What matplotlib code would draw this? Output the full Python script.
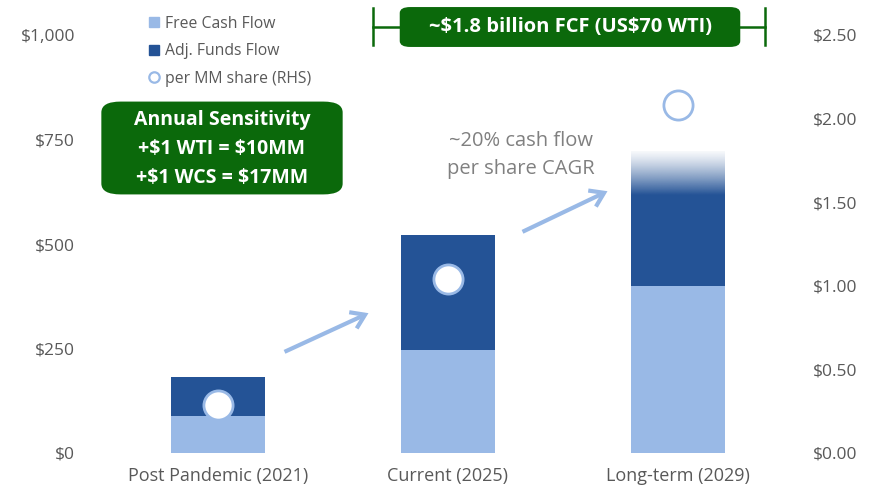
import numpy as np
import matplotlib
matplotlib.use("Agg")
import matplotlib.pyplot as plt
from matplotlib.patches import FancyBboxPatch, FancyArrowPatch
from matplotlib.lines import Line2D
from matplotlib.colors import to_rgb

plt.rcParams['font.family'] = ['Open Sans', 'DejaVu Sans']
plt.rcParams['text.parse_math'] = False

categories = ["Post Pandemic (2021)", "Current (2025)", "Long-term (2029)"]
adj_funds_flow = [182, 521, 617]      # solid total bar ($MM)
faded_top = [0, 0, 722]               # gradient extension of last bar
free_cash_flow = [88, 246, 400]
per_share = [0.29, 1.04, 2.08]       # RHS
left_ticks = [0, 250, 500, 750, 1000]
left_labels = ["$0", "$250", "$500", "$750", "$1,000"]
right_ticks = [0, 0.5, 1.0, 1.5, 2.0, 2.5]
right_labels = ["$0.00", "$0.50", "$1.00", "$1.50", "$2.00", "$2.50"]

LIGHT = '#99B9E6'
DARK = '#245396'
GREEN = '#0B690B'
GRAY = '#595959'

W, H = 878, 493
fig = plt.figure(figsize=(W/100, H/100), dpi=100)
ax = fig.add_axes([103/W, 1-453/H, (793-103)/W, (453-35)/H])
x = np.arange(len(categories))
bw = 0.405

ax.bar(x, adj_funds_flow, width=bw, color=DARK, zorder=2)
ax.bar(x, free_cash_flow, width=bw, color=LIGHT, zorder=3)

# gradient fade on top of last bar
i = 2
r, g, b = to_rgb(DARK)
n = 100
grad = np.zeros((n, 2, 4))
alpha = np.linspace(1, 0.08, n) ** 1.3
grad[:, :, 0] = r; grad[:, :, 1] = g; grad[:, :, 2] = b
grad[:, :, 3] = alpha[:, None]
ax.imshow(grad, extent=[x[i]-bw/2, x[i]+bw/2, adj_funds_flow[i], faded_top[i]],
          origin='lower', aspect='auto', zorder=2, interpolation='bilinear')

ax.set_xlim(-0.5, 2.5)
ax.set_ylim(0, 1000)
ax.set_yticks(left_ticks)
ax.set_yticklabels(left_labels)
ax.set_xticks(x)
ax.set_xticklabels(categories)
for s in ax.spines.values():
    s.set_visible(False)
ax.tick_params(axis='y', length=0, pad=20, labelsize=12.5, labelcolor=GRAY)
ax.tick_params(axis='x', length=0, pad=10, labelsize=13, labelcolor=GRAY)

ax2 = ax.twinx()
ax2.set_ylim(0, 2.5)
ax2.set_yticks(right_ticks)
ax2.set_yticklabels(right_labels)
for s in ax2.spines.values():
    s.set_visible(False)
ax2.tick_params(axis='y', length=0, pad=14.5, labelsize=12.5, labelcolor=GRAY)
ax2.plot(x, per_share, linestyle='none', marker='o', markersize=21,
         markerfacecolor='white', markeredgecolor=LIGHT, markeredgewidth=2, zorder=5)
ax2.set_zorder(ax.get_zorder()+1)
ax2.patch.set_visible(False)

def fx(px):
    return px / W
def fy(py):
    return 1 - py / H

# arrows
for (x0, y0, x1, y1) in [(282, 353, 371, 312), (520, 233, 610, 190)]:
    fig.add_artist(FancyArrowPatch(
        (fx(x0), fy(y0)), (fx(x1), fy(y1)), transform=fig.transFigure,
        arrowstyle='->,head_length=6,head_width=4', color=LIGHT, lw=3,
        mutation_scale=1.6, capstyle='butt', joinstyle='miter'))

fig.text(fx(521), fy(155), "~20% cash flow\nper share CAGR", ha='center', va='center',
         fontsize=14.5, color='#808080', linespacing=1.55)

# sensitivity box
box1 = FancyBboxPatch((fx(111), fy(189)), fx(222), (189-107)/H,
                      boxstyle="round,pad=0.011,rounding_size=0.022",
                      transform=fig.transFigure, facecolor=GREEN, edgecolor='none')
fig.add_artist(box1)
fig.text(fx(222), fy(149), "Annual Sensitivity\n+$1 WTI = $10MM\n+$1 WCS = $17MM",
         ha='center', va='center', color='white', fontsize=14, fontweight='bold',
         linespacing=1.6)

# top bracket
yb = fy(27)
fig.add_artist(Line2D([fx(373), fx(765)], [yb, yb], transform=fig.transFigure, color=GREEN, lw=1.8))
for xe in (373, 765):
    fig.add_artist(Line2D([fx(xe), fx(xe)], [fy(8), fy(45)], transform=fig.transFigure, color=GREEN, lw=1.8))
box2 = FancyBboxPatch((fx(405), fy(44)), fx(330), (44-10)/H,
                      boxstyle="round,pad=0.006,rounding_size=0.012",
                      transform=fig.transFigure, facecolor=GREEN, edgecolor='none')
fig.add_artist(box2)
fig.text(fx(571), fy(27), "~$1.8 billion FCF (US$70 WTI)", ha='center', va='center',
         color='white', fontsize=14.5, fontweight='bold')

# legend
handles = [
    Line2D([], [], linestyle='none', marker='s', markersize=7.5, markerfacecolor=LIGHT, markeredgecolor=LIGHT),
    Line2D([], [], linestyle='none', marker='s', markersize=7.5, markerfacecolor=DARK, markeredgecolor=DARK),
    Line2D([], [], linestyle='none', marker='o', markersize=7.5, markerfacecolor='white', markeredgecolor=LIGHT, markeredgewidth=1.6),
]
fig.legend(handles, ["Free Cash Flow", "Adj. Funds Flow", "per MM share (RHS)"],
           loc='upper left', bbox_to_anchor=(fx(138), fy(5)), frameon=False,
           fontsize=11.3, labelcolor=GRAY, handlelength=0.7, handletextpad=0.35,
           labelspacing=0.72, borderpad=0.2)

fig.savefig("out.png", dpi=100)
